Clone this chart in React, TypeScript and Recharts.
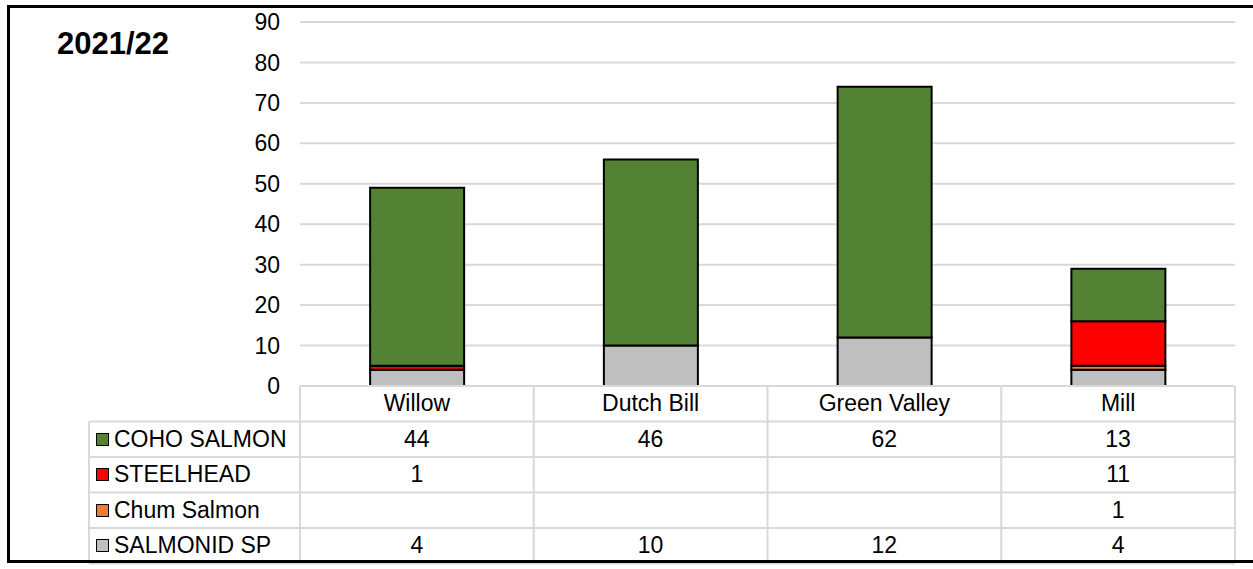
import React from 'react'
import { BarChart, Bar, YAxis, XAxis, CartesianGrid } from 'recharts'

const categories = ['Willow', 'Dutch Bill', 'Green Valley', 'Mill']
const cohoSalmon = [44, 46, 62, 13]
const steelhead = [1, null, null, 11]
const chumSalmon = [null, null, null, 1]
const salmonidSp = [4, 10, 12, 4]
const yTicks = [0, 10, 20, 30, 40, 50, 60, 70, 80, 90]
const seasonLabel = '2021/22'

// table rows in display order (top to bottom)
const series = [
  { key: 'coho', name: 'COHO SALMON', values: cohoSalmon },
  { key: 'steelhead', name: 'STEELHEAD', values: steelhead },
  { key: 'chum', name: 'Chum Salmon', values: chumSalmon },
  { key: 'salmonid', name: 'SALMONID SP', values: salmonidSp },
]

const COLORS: Record<string, string> = {
  coho: '#548235',
  steelhead: '#ff0000',
  chum: '#ed7d31',
  salmonid: '#bfbfbf',
}

// stacking order, bottom to top
const stackOrder = ['salmonid', 'chum', 'steelhead', 'coho']

const data = categories.map((name, i) => {
  const row: Record<string, string | number | null> = { name }
  series.forEach((s) => { row[s.key] = s.values[i] })
  return row
})

const W = 1253
const H = 569
const PLOT_L = 300
const PLOT_R = 1235
const PLOT_T = 22
const PLOT_B = 386
const Y_AXIS_W = 60
const LEGEND_L = 89
const ROW_H = 35.5
const FONT = '"Liberation Sans", Arial, sans-serif'
const GRID = '#d9d9d9'

function DataTable() {
  const colW = (PLOT_R - PLOT_L) / categories.length
  const rows = series.length + 1
  const bottom = PLOT_B + rows * ROW_H
  const cellText: React.CSSProperties = {
    position: 'absolute', display: 'flex', alignItems: 'center', justifyContent: 'center',
    fontFamily: FONT, fontSize: 23, color: '#000', height: ROW_H,
  }
  return (
    <>
      <svg width={W} height={H} style={{ position: 'absolute', left: 0, top: 0 }}>
        {/* horizontal rules */}
        <line x1={PLOT_L} x2={PLOT_R} y1={PLOT_B} y2={PLOT_B} stroke={GRID} strokeWidth={2} />
        {series.map((s, r) => (
          <line key={s.key} x1={LEGEND_L} x2={PLOT_R} y1={PLOT_B + (r + 1) * ROW_H} y2={PLOT_B + (r + 1) * ROW_H} stroke={GRID} strokeWidth={2} />
        ))}
        <line x1={LEGEND_L} x2={PLOT_R} y1={bottom} y2={bottom} stroke={GRID} strokeWidth={2} />
        {/* vertical rules */}
        <line x1={LEGEND_L} x2={LEGEND_L} y1={PLOT_B + ROW_H} y2={bottom} stroke={GRID} strokeWidth={2} />
        {categories.map((c, i) => (
          <line key={c} x1={PLOT_L + i * colW} x2={PLOT_L + i * colW} y1={PLOT_B} y2={bottom} stroke={GRID} strokeWidth={2} />
        ))}
        <line x1={PLOT_R} x2={PLOT_R} y1={PLOT_B} y2={bottom} stroke={GRID} strokeWidth={2} />
      </svg>
      {categories.map((c, i) => (
        <div key={c} style={{ ...cellText, left: PLOT_L + i * colW, top: PLOT_B, width: colW }}>{c}</div>
      ))}
      {series.map((s, r) => (
        <React.Fragment key={s.key}>
          <div style={{ ...cellText, justifyContent: 'flex-start', left: LEGEND_L + 7, top: PLOT_B + (r + 1) * ROW_H, width: PLOT_L - LEGEND_L - 7 }}>
            <span style={{ display: 'inline-block', width: 11, height: 11, background: COLORS[s.key], border: '1.5px solid #000', marginRight: 5 }} />
            {s.name}
          </div>
          {s.values.map((v, i) => (
            <div key={i} style={{ ...cellText, left: PLOT_L + i * colW, top: PLOT_B + (r + 1) * ROW_H, width: colW }}>
              {v ?? ''}
            </div>
          ))}
        </React.Fragment>
      ))}
    </>
  )
}

export default function App() {
  return (
    <div style={{ position: 'fixed', left: 0, top: 0, width: W, height: H, overflow: 'hidden', background: '#fff' }}>
      <BarChart
        width={W}
        height={H}
        data={data}
        barCategoryGap="30%"
        margin={{ top: PLOT_T, right: W - PLOT_R, bottom: H - PLOT_B, left: PLOT_L - Y_AXIS_W }}
        style={{ position: 'absolute', left: 0, top: 0 }}
      >
        <CartesianGrid vertical={false} stroke={GRID} strokeWidth={2} />
        <XAxis dataKey="name" hide />
        <YAxis
          width={Y_AXIS_W}
          domain={[0, 90]}
          ticks={yTicks}
          axisLine={false}
          tickLine={false}
          tickSize={0}
          tickMargin={20}
          interval={0}
          tick={{ fontSize: 23, fill: '#000', fontFamily: FONT }}
        />
        {stackOrder.map((k) => (
          <Bar key={k} dataKey={k} stackId="fish" fill={COLORS[k]} stroke="#000" strokeWidth={2} isAnimationActive={false} />
        ))}
      </BarChart>
      <DataTable />
      <div style={{ position: 'absolute', left: 57, top: 28, fontFamily: FONT, fontWeight: 700, fontSize: 31, lineHeight: '31px', color: '#000' }}>
        {seasonLabel}
      </div>
      {/* outer frame, right side runs off the page */}
      <div style={{ position: 'absolute', left: 7, top: 5, width: W + 20, height: 558, border: '3px solid #000', boxSizing: 'border-box' }} />
    </div>
  )
}
